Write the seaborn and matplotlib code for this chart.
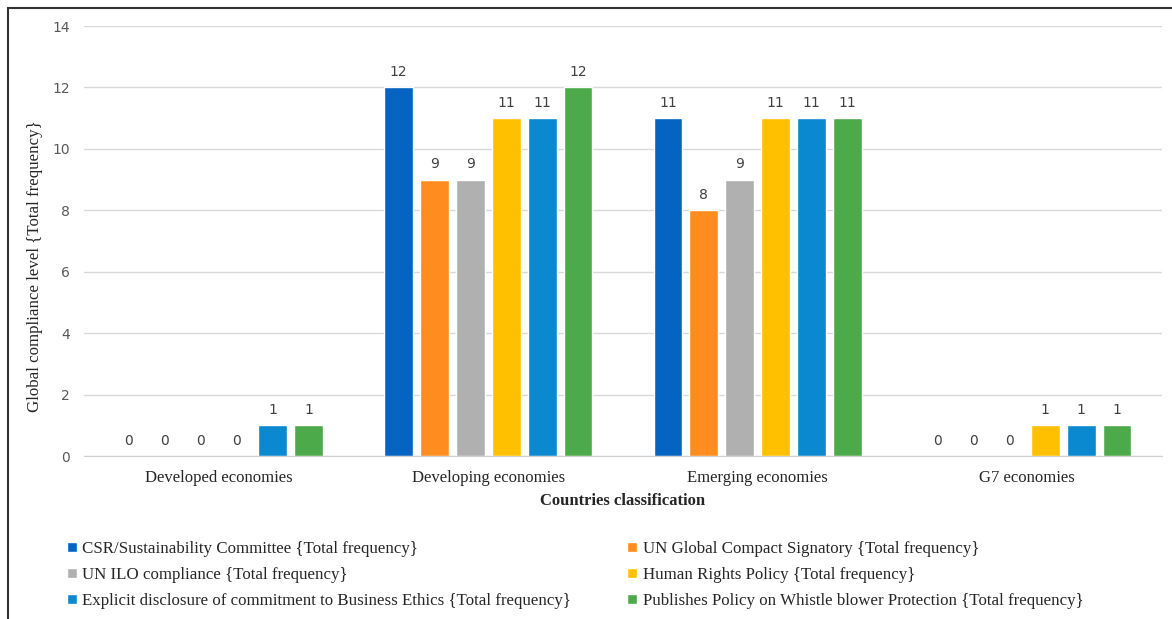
import matplotlib
matplotlib.use("Agg")
import matplotlib.pyplot as plt
import seaborn as sns
import pandas as pd
from matplotlib.patches import Rectangle

categories = ["Developed economies", "Developing economies", "Emerging economies", "G7 economies"]
series = [
    "CSR/Sustainability Committee {Total frequency}",
    "UN Global Compact Signatory {Total frequency}",
    "UN ILO compliance {Total frequency}",
    "Human Rights Policy {Total frequency}",
    "Explicit disclosure of commitment to Business Ethics {Total frequency}",
    "Publishes Policy on Whistle blower Protection {Total frequency}",
]
csr = [0, 12, 11, 0]
ungc = [0, 9, 8, 0]
ilo = [0, 9, 9, 0]
hr = [0, 11, 11, 1]
ethics = [1, 11, 11, 1]
whistle = [1, 12, 11, 1]
colors = ["#0563C1", "#FF8C1E", "#B0B0B0", "#FFC000", "#0A88D0", "#4DAA4B"]

values = [csr, ungc, ilo, hr, ethics, whistle]
rows = []
for s, vals in zip(series, values):
    for c, v in zip(categories, vals):
        rows.append({"cat": c, "series": s, "value": v})
df = pd.DataFrame(rows)

sns.set_style("white")
W, H = 1172, 619
fig = plt.figure(figsize=(W / 100, H / 100), dpi=100)
ax = fig.add_axes([84 / W, 1 - 456 / H, (1162 - 84) / W, (456 - 26) / H])

sns.barplot(data=df, x="cat", y="value", hue="series", order=categories,
            hue_order=series, palette=colors, width=0.8, gap=0.2,
            saturation=1, ax=ax, legend=True, errorbar=None)

for cont in ax.containers:
    ax.bar_label(cont, fmt="%d", padding=6, fontsize=10, color="#404040",
                 family="DejaVu Sans")

ax.set_ylim(0, 14)
ax.set_yticks(range(0, 15, 2))
ax.yaxis.grid(True, color="#D9D9D9", linewidth=1)
ax.set_axisbelow(True)
for sp in ["left", "right", "top"]:
    ax.spines[sp].set_visible(False)
ax.spines["bottom"].set_color("#D0D0D0")
ax.tick_params(axis="y", length=0, pad=10, labelsize=10, labelcolor="#595959")
ax.tick_params(axis="x", length=0, pad=10, labelsize=12, labelcolor="#262626")
for lab in ax.get_yticklabels():
    lab.set_family("DejaVu Sans")
for lab in ax.get_xticklabels():
    lab.set_family("Liberation Serif")

ax.set_xlabel("Countries classification", family="Liberation Serif",
              fontweight="bold", fontsize=12, labelpad=5)
ax.set_ylabel("Global compliance level {Total frequency}", family="Liberation Serif",
              fontsize=12.2)
ax.yaxis.set_label_coords(-0.038, 0.442)

handles, labels = ax.get_legend_handles_labels()
ax.get_legend().remove()
order = [0, 2, 4, 1, 3, 5]
fig.legend([handles[i] for i in order], [labels[i] for i in order],
           loc="upper left", bbox_to_anchor=(52 / W, 1 - 526 / H), ncol=2,
           frameon=False, prop={"family": "Liberation Serif", "size": 12.2},
           handlelength=0.55, handleheight=0.55, handletextpad=0.35,
           columnspacing=3.3, labelspacing=0.58)

fig.patches.append(Rectangle((8 / W, -0.05), (1180 - 8) / W, 1.05 - 8 / H,
                             transform=fig.transFigure, fill=False,
                             edgecolor="#333333", linewidth=1.5))

fig.savefig("out.png", dpi=100)
